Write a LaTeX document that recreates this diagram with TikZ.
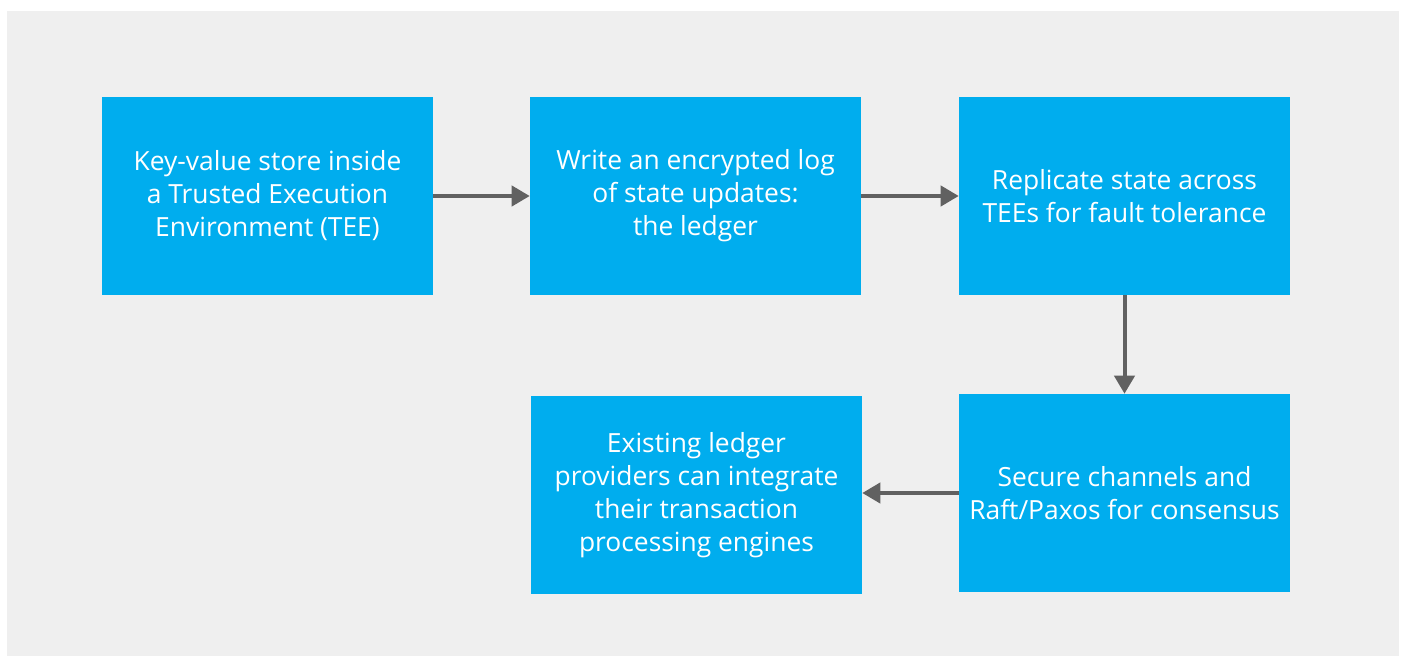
\documentclass[tikz,border=0pt]{standalone}
\usepackage{fontspec}
\setmainfont{Open Sans}
\usetikzlibrary{arrows.meta}
\definecolor{bgray}{HTML}{EFEFEF}
\definecolor{boxblue}{HTML}{00ADEE}
\definecolor{arrgray}{HTML}{616161}
\begin{document}
\begin{tikzpicture}[x=0.75pt,y=-0.75pt,
  stepbox/.style={fill=boxblue, draw=none, minimum width=248.25pt, minimum height=148.5pt,
    text=white, align=center, font=\fontsize{19.8}{24.75}\selectfont, inner sep=0pt},
  arr/.style={draw=arrgray, line width=3pt, -{Triangle[length=13.5pt,width=15pt]}}]
\useasboundingbox (0,0) rectangle (1403,656);
\fill[bgray] (7,11) rectangle (1399,656);
\node[stepbox] (b1) at (267.5,196) {Key-value store inside\\a Trusted Execution\\Environment (TEE)};
\node[stepbox] (b2) at (695.5,196) {Write an encrypted log\\of state updates:\\the ledger};
\node[stepbox] (b3) at (1124.5,196) {Replicate state across\\TEEs for fault tolerance};
\node[stepbox] (b4) at (1124.5,493) {Secure channels and\\Raft/Paxos for consensus};
\node[stepbox] (b5) at (696.5,495) {Existing ledger\\providers can integrate\\their transaction\\processing engines};
\draw[arr] (b1.east) -- (b2.west);
\draw[arr] (b2.east) -- (b3.west);
\draw[arr] (b3.south) -- (b4.north);
\draw[arr] (b4.west) -- (b4.west -| b5.east);
\end{tikzpicture}
\end{document}
